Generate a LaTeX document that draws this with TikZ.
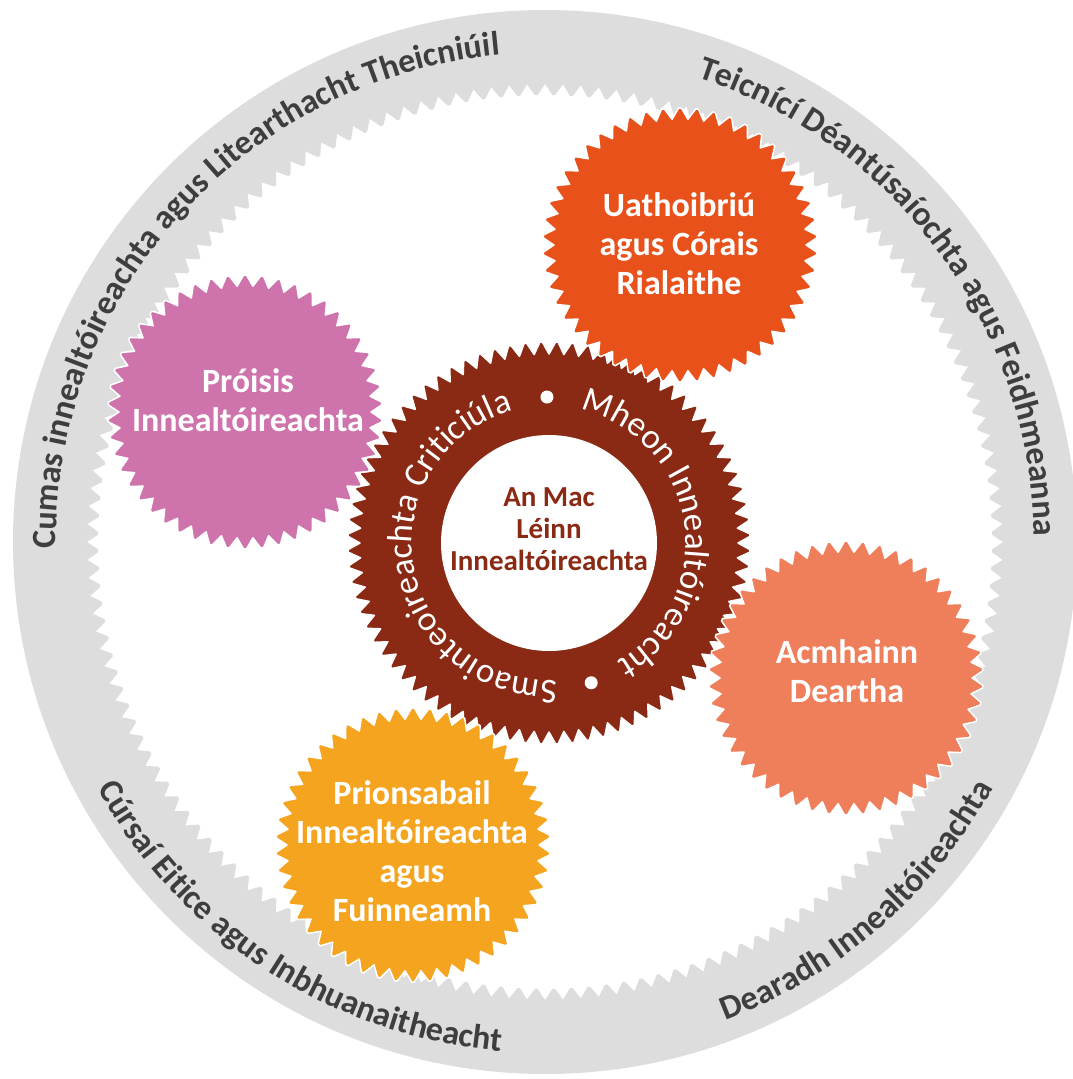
\documentclass[tikz,border=0pt]{standalone}
\usepackage{fontspec}
\setmainfont{Carlito}
\usetikzlibrary{decorations.text}

\definecolor{ringgray}{RGB}{221,221,221}
\definecolor{labelgray}{RGB}{62,62,64}
\definecolor{corebrown}{RGB}{138,42,20}
\definecolor{gearpink}{RGB}{207,115,172}
\definecolor{gearorange}{RGB}{232,81,26}
\definecolor{gearsalmon}{RGB}{239,126,91}
\definecolor{gearyellow}{RGB}{245,164,32}

% #1 teeth, #2 root radius, #3 tip radius
\newcommand{\cogpath}[3]{(0:#2) \foreach \k in {1,...,#1}{
    -- ({(\k-0.58)*(360/#1)}:#3) -- ({(\k-0.42)*(360/#1)}:#3) -- ({\k*(360/#1)}:#2)} -- cycle}
\newcommand{\ringlabel}{\fontsize{34}{36}\selectfont\bfseries}
\newcommand{\corering}{\fontsize{35}{37}\selectfont}

\begin{document}
\begin{tikzpicture}[
            x = 1pt, y = 1pt,
            cog/.style = {draw=white, line width=1.5pt, line join=round},
            geartext/.style = {text=white, font=\fontsize{34}{39}\selectfont\bfseries,
                               align=center, inner sep=0pt},
            coretext/.style = {text=corebrown, font=\fontsize{29}{32}\selectfont\bfseries,
                               align=center, inner sep=0pt},
            ringdot/.style = {circle, fill=white, inner sep=0pt, minimum size=13pt}
        ]
\useasboundingbox (0,0) rectangle (1073,-1079);

% centres
\coordinate (hub) at (545,-542);
\coordinate (core) at (549,-543);
\coordinate (gProc) at (245,-412);
\coordinate (gAuto) at (680,-245);
\coordinate (gDesign) at (846,-678);
\coordinate (gPrin) at (413,-845);

% outer ring
\fill[ringgray, even odd rule, shift={(hub)}] (0,0) circle[radius=532] \cogpath{160}{458}{447};

\path[decorate, decoration={text along path, text align=center, text color=labelgray,
    text={|\ringlabel|Cumas innealtóireachta agus Litearthacht Theicniúil}}]
    ([shift={(218:489)}]hub) arc[start angle=218, end angle=58, radius=489];
\path[decorate, decoration={text along path, text align=center, text color=labelgray,
    text={|\ringlabel|Teicnící Déantúsaíochta agus Feidhmeanna}}]
    ([shift={(116.3:489)}]hub) arc[start angle=116.3, end angle=-43.7, radius=489];
\path[decorate, decoration={text along path, text align=center, text color=labelgray,
    text={|\ringlabel|Dearadh Innealtóireachta}}]
    ([shift={(-119:511)}]hub) arc[start angle=-119, end angle=21, radius=511];
\path[decorate, decoration={text along path, text align=center, text color=labelgray,
    text={|\ringlabel|Cúrsaí Eitice agus Inbhuanaitheacht}}]
    ([shift={(167:511)}]hub) arc[start angle=167, end angle=307, radius=511];

% central gear
\filldraw[cog, fill=corebrown, shift={(core)}] \cogpath{80}{189}{201};
\fill[white] (core) circle[radius=108];

\path[decorate, decoration={text along path, text align=center, text color=white,
    text={|\corering|Smaointeoireachta Criticiúla}}]
    ([shift={(284.2:137)}]core) arc[start angle=284.2, end angle=94.2, radius=137];
\path[decorate, decoration={text along path, text align=center, text color=white,
    text={|\corering|Mheon Innealtóireacht}}]
    ([shift={(98.2:137)}]core) arc[start angle=98.2, end angle=-81.8, radius=137];

\node[ringdot] (dotA) at ([shift={(90.8:146)}]core) {};
\node[ringdot] (dotB) at ([shift={(-73.2:146)}]core) {};

% small gears
\filldraw[cog, fill=gearpink, shift={(gProc)}] \cogpath{50}{126}{137};
\filldraw[cog, fill=gearorange, shift={(gAuto)}] \cogpath{50}{126}{137};
\filldraw[cog, fill=gearsalmon, shift={(gDesign)}] \cogpath{50}{126}{137};
\filldraw[cog, fill=gearyellow, shift={(gPrin)}] \cogpath{50}{126}{137};

\node[geartext] (proc) at (248,-400) {Próisis\\Innealtóireachta};
\node[geartext] (auto) at (679,-244) {Uathoibriú\\agus Córais\\Rialaithe};
\node[geartext] (design) at (847,-671) {Acmhainn\\Deartha};
\node[geartext] (prin) at (412,-851) {Prionsabail\\Innealtóireachta\\agus\\Fuinneamh};
\node[coretext] (student) at (549,-529) {An Mac\\Léinn\\Innealtóireachta};
\end{tikzpicture}
\end{document}
